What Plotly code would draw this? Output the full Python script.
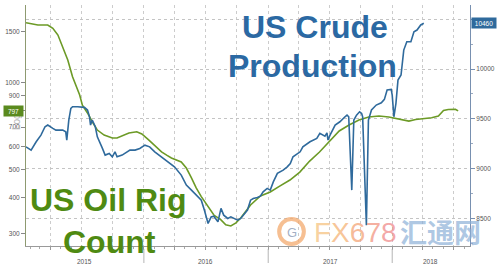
import numpy as np
import plotly.graph_objects as go

# ---------------- data ----------------
rig_dates = [
    "2015-01-19", "2015-02-23", "2015-03-24", "2015-04-08", "2015-04-23", "2015-05-07",
    "2015-05-22", "2015-06-05", "2015-06-14", "2015-06-26", "2015-07-04", "2015-07-19",
    "2015-08-02", "2015-08-17", "2015-09-06", "2015-09-30", "2015-10-14", "2015-10-29",
    "2015-11-18", "2015-12-11", "2015-12-26", "2016-01-15", "2016-02-08", "2016-02-22",
    "2016-03-08", "2016-03-22", "2016-04-20", "2016-05-05", "2016-05-20", "2016-06-03",
    "2016-06-18", "2016-07-08", "2016-07-25", "2016-08-15", "2016-08-29", "2016-09-13",
    "2016-09-28", "2016-10-12", "2016-10-27", "2016-11-10", "2016-12-09", "2017-01-07",
    "2017-02-05", "2017-03-06", "2017-04-04", "2017-05-03", "2017-06-01", "2017-06-30",
    "2017-07-29", "2017-08-27", "2017-09-25", "2017-10-24", "2017-11-23", "2017-12-22",
    "2018-01-21", "2018-02-19", "2018-03-11", "2018-04-04", "2018-04-27", "2018-05-17",
    "2018-06-01", "2018-06-15", "2018-07-06", "2018-07-14",
]
rig_count = [
    1612, 1582, 1582, 1541, 1461, 1331,
    1197, 1047, 980, 905, 835, 784,
    731, 684, 657, 642, 642, 652,
    668, 675, 663, 632, 597, 575,
    560, 547, 530, 505, 467, 431,
    402, 371, 347, 334, 321, 318,
    326, 339, 356, 376, 404, 417,
    438, 459, 489, 534, 574, 627,
    679, 712, 741, 759, 765, 759,
    747, 735, 744, 750, 755, 765,
    800, 806, 808, 797,
]

prod_dates = [
    "2015-01-19", "2015-01-25", "2015-02-03", "2015-02-18", "2015-03-04", "2015-03-16",
    "2015-03-24", "2015-04-08", "2015-04-17", "2015-05-07", "2015-05-16", "2015-05-19",
    "2015-05-25", "2015-05-31", "2015-06-05", "2015-06-20", "2015-07-10", "2015-07-19",
    "2015-07-25", "2015-07-28", "2015-08-02", "2015-08-11", "2015-08-17", "2015-09-01",
    "2015-09-09", "2015-09-21", "2015-09-30", "2015-10-08", "2015-10-14", "2015-10-29",
    "2015-11-07", "2015-11-21", "2015-12-06", "2015-12-20", "2016-01-04", "2016-01-18",
    "2016-02-02", "2016-02-22", "2016-03-14", "2016-03-31", "2016-04-20", "2016-05-05",
    "2016-05-20", "2016-06-03", "2016-06-18", "2016-06-27", "2016-07-08", "2016-07-17",
    "2016-07-25", "2016-08-06", "2016-08-15", "2016-08-23", "2016-09-04", "2016-09-13",
    "2016-09-21", "2016-10-03", "2016-10-12", "2016-10-20", "2016-11-01", "2016-11-10",
    "2016-11-18", "2016-11-30", "2016-12-09", "2016-12-17", "2016-12-29", "2017-01-07",
    "2017-01-16", "2017-01-28", "2017-02-05", "2017-02-14", "2017-02-26", "2017-03-07",
    "2017-03-15", "2017-04-05", "2017-04-13", "2017-05-04", "2017-05-24", "2017-06-02",
    "2017-06-17", "2017-06-23", "2017-06-26", "2017-07-02", "2017-07-17", "2017-07-31",
    "2017-08-15", "2017-08-21", "2017-08-26", "2017-09-04", "2017-09-10", "2017-09-18",
    "2017-09-27", "2017-10-03", "2017-10-06", "2017-10-17", "2017-10-23", "2017-11-01",
    "2017-11-15", "2017-11-30", "2017-12-09", "2017-12-17", "2017-12-29", "2018-01-01",
    "2018-01-06", "2018-01-12", "2018-01-18", "2018-01-27", "2018-02-04", "2018-02-13",
    "2018-02-25", "2018-03-06", "2018-03-15", "2018-03-26", "2018-04-04",
]
prod_kbd = [
    9218, 9205, 9185, 9269, 9336, 9420,
    9437, 9403, 9386, 9386, 9369, 9286,
    9487, 9605, 9621, 9621, 9615, 9588,
    9520, 9437, 9487, 9420, 9319, 9202,
    9135, 9152, 9118, 9168, 9118, 9135,
    9152, 9185, 9185, 9202, 9235, 9218,
    9168, 9118, 9067, 9017, 8934, 8833,
    8783, 8732, 8682, 8582, 8448, 8514,
    8521, 8464, 8599, 8531, 8498, 8514,
    8498, 8481, 8498, 8531, 8582, 8682,
    8699, 8709, 8722, 8766, 8800, 8783,
    8866, 8951, 8967, 8984, 9017, 9051,
    9118, 9168, 9218, 9269, 9303, 9353,
    9326, 9359, 9286, 9336, 9437, 9470,
    9520, 9537, 9520, 8783, 9487, 9537,
    9570, 9554, 9520, 8430, 9487, 9588,
    9638, 9661, 9695, 9789, 9796, 9738,
    9520, 9655, 9889, 9940, 10191, 10275,
    10275, 10375, 10392, 10443, 10460,
]

year_labels = ["2015", "2016", "2017", "2018"]
year_label_dates = ["2015-07-10", "2016-07-01", "2017-07-02", "2018-04-25"]
year_starts = ["2016-01-01", "2017-01-01", "2018-01-01"]
left_ticks = [300, 400, 500, 600, 700, 800, 900, 1000, 1500]
right_ticks = [8500, 9000, 9500, 10000, 10500]
right_ticktext = ["8500", "9000", "9500", "10000", ""]

# ---------------- styling ----------------
W, H = 500, 268
ML, MR, MT, MB = 23, 28, 5, 22
PW, PH = W - ML - MR, H - MT - MB

def px_x(px):
    return (px - ML) / PW

def px_y(py):
    return (H - MB - py) / PH

GREEN_LINE = "#6c9a26"
GREEN_TEXT = "#4f8a12"
BLUE_LINE = "#2f6a9c"
BLUE_TEXT = "#2b69a3"
TICKFONT = dict(family="Liberation Sans, Arial", size=6.5, color="#555555")

fig = go.Figure()
fig.add_trace(go.Scatter(x=rig_dates, y=rig_count, yaxis="y", mode="lines",
                         line=dict(color=GREEN_LINE, width=1.6), showlegend=False))
fig.add_trace(go.Scatter(x=prod_dates, y=prod_kbd, yaxis="y2", mode="lines",
                         line=dict(color=BLUE_LINE, width=1.6), showlegend=False))

fig.update_layout(
    width=W, height=H,
    margin=dict(l=ML, r=MR, t=MT, b=MB),
    paper_bgcolor="white", plot_bgcolor="white",
    showlegend=False,
    xaxis=dict(
        type="date", range=["2015-01-19", "2018-08-18"],
        showgrid=True, gridcolor="#cccccc", griddash="dot", gridwidth=1,
        dtick="M3", tick0="2015-01-01", showticklabels=False,
        ticks="outside", ticklen=3, tickcolor="#999999",
        showline=True, linecolor="#9a9a9a", linewidth=1, zeroline=False,
        minor=dict(dtick="M1", ticks="outside", ticklen=2, tickcolor="#aaaaaa", showgrid=False),
    ),
    yaxis=dict(
        type="log", range=[np.log10(271), np.log10(1857)],
        tickvals=left_ticks, ticktext=[str(v) for v in left_ticks],
        ticks="outside", ticklen=4, tickcolor="#888888", tickfont=TICKFONT,
        showgrid=False, showline=True, linecolor="#8e9a70", linewidth=1, zeroline=False,
    ),
    yaxis2=dict(
        overlaying="y", side="right", range=[8221, 10644],
        tickvals=right_ticks, ticktext=right_ticktext,
        ticks="outside", ticklen=4, tickcolor="#7890b0", tickfont=TICKFONT,
        showgrid=True, gridcolor="#c4c4c4", griddash="dot", gridwidth=1,
        showline=True, linecolor="#7890b0", linewidth=1, zeroline=False,
        minor=dict(dtick=250, ticks="outside", ticklen=2, tickcolor="#9aaac0", showgrid=False),
    ),
)

shapes = []
for d in year_starts:
    shapes.append(dict(type="line", xref="x", yref="paper", x0=d, x1=d,
                       y0=px_y(249), y1=px_y(263), line=dict(color="#b5b5b5", width=1)))
# watermark logo ring
shapes.append(dict(type="circle", xref="paper", yref="paper",
                   x0=px_x(279), x1=px_x(304), y0=px_y(244), y1=px_y(219),
                   line=dict(color="rgba(243,170,110,0.75)", width=4)))
fig.update_layout(shapes=shapes)

ann = []
for lab, d in zip(year_labels, year_label_dates):
    ann.append(dict(x=d, xref="x", y=px_y(261), yref="paper", text=lab, showarrow=False,
                    font=TICKFONT, xanchor="center", yanchor="middle"))

BIG = "Liberation Sans, Arial"
ann += [
    dict(x=px_x(315), y=px_y(26.5), xref="paper", yref="paper", text="<b>US Crude</b>",
         showarrow=False, font=dict(family=BIG, size=32, color=BLUE_TEXT),
         xanchor="center", yanchor="middle"),
    dict(x=px_x(313), y=px_y(65.5), xref="paper", yref="paper", text="<b>Production</b>",
         showarrow=False, font=dict(family=BIG, size=32, color=BLUE_TEXT),
         xanchor="center", yanchor="middle"),
    dict(x=px_x(106), y=px_y(199.5), xref="paper", yref="paper", text="<b>US Oil Rig</b>",
         showarrow=False, font=dict(family=BIG, size=32, color=GREEN_TEXT),
         xanchor="center", yanchor="middle"),
    dict(x=px_x(107.5), y=px_y(242), xref="paper", yref="paper", text="<b>Count</b>",
         showarrow=False, font=dict(family=BIG, size=32, color=GREEN_TEXT),
         xanchor="center", yanchor="middle"),
    # watermark
    dict(x=px_x(291.5), y=px_y(232), xref="paper", yref="paper", text="G",
         showarrow=False, font=dict(family=BIG, size=13, color="rgba(120,140,170,0.7)"),
         xanchor="center", yanchor="middle"),
    dict(x=px_x(356), y=px_y(232), xref="paper", yref="paper",
         text=("<span style='color:rgba(246,196,130,0.75)'>F</span>"
               "<span style='color:rgba(245,180,120,0.75)'>X</span>"
               "<span style='color:rgba(244,165,120,0.75)'>6</span>"
               "<span style='color:rgba(242,150,130,0.75)'>7</span>"
               "<span style='color:rgba(240,140,140,0.75)'>8</span>"),
         showarrow=False, font=dict(family="Liberation Sans", size=28),
         xanchor="center", yanchor="middle"),
    dict(x=px_x(442), y=px_y(231), xref="paper", yref="paper", text="<b>汇通网</b>",
         showarrow=False, font=dict(family="Noto Sans CJK SC", size=27, color="rgba(140,175,215,0.7)"),
         xanchor="center", yanchor="middle"),
    # Log label
    dict(x=px_x(13), y=px_y(122), xref="paper", yref="paper", text="Log", textangle=-90,
         showarrow=False, font=dict(family=BIG, size=10, color="#b5b5b5"),
         xanchor="center", yanchor="middle"),
    # last value tags
    dict(x=px_x(21), y=np.log10(rig_count[-1]), xref="paper", yref="y", text=str(rig_count[-1]),
         showarrow=False, font=dict(family=BIG, size=6.5, color="white"),
         bgcolor="#5a8a1e", xanchor="right", yanchor="middle", width=17, height=8, borderpad=1),
    dict(x=px_x(473), y=prod_kbd[-1], xref="paper", yref="y2", text=str(prod_kbd[-1]),
         showarrow=False, font=dict(family=BIG, size=6.5, color="white"),
         bgcolor="#2f6a9c", xanchor="left", yanchor="middle", width=22, height=8, borderpad=1),
]
fig.update_layout(annotations=ann)

fig.write_html("out.html")
